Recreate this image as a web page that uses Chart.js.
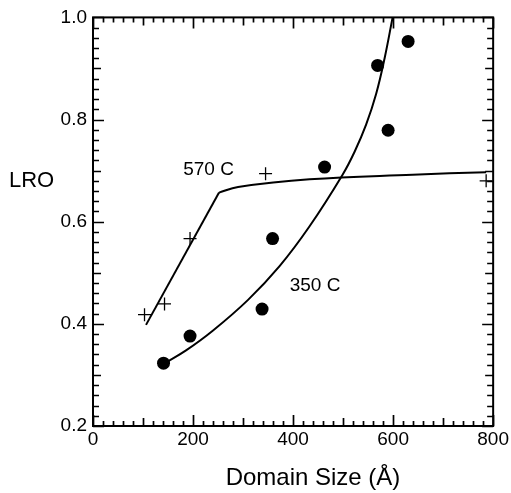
<!DOCTYPE html>
<html>
<head>
<meta charset="utf-8">
<script src="https://cdn.jsdelivr.net/npm/chart.js@4/dist/chart.umd.min.js"></script>
<style>
  html, body { margin: 0; padding: 0; background: #fff; }
  canvas { display: block; }
</style>
</head>
<body>
<canvas id="c" width="511" height="493"></canvas>
<script>
// Axis tick labels
const xTickLabels = [0, 200, 400, 600, 800];
const yTickLabels = [0.2, 0.4, 0.6, 0.8, 1.0];

// Measured long-range order, 350 C anneal
const size350 = [141, 194, 338, 359, 463, 569, 590, 630];
const lro350  = [0.323, 0.376, 0.429, 0.567, 0.707, 0.906, 0.779, 0.953];

// Measured long-range order, 570 C anneal
const size570 = [103, 143, 194, 345, 786];
const lro570  = [0.418, 0.439, 0.567, 0.694, 0.680];

// Fitted trend, 350 C
const fit350X = [142, 186, 240, 310, 373, 433, 499, 523, 546, 566, 583, 599];
const fit350Y = [0.322, 0.348, 0.387, 0.447, 0.513, 0.591, 0.692, 0.737, 0.790, 0.850, 0.920, 1.0];

// Fitted trend, 570 C: linear rise, then slow saturation
const rise570X = [106, 252];
const rise570Y = [0.398, 0.657];
const sat570X  = [252, 290, 433, 639, 786];
const sat570Y  = [0.657, 0.668, 0.683, 0.692, 0.697];

// Curve labels
const curveLabels = [
  { text: '570 C', x: 231, y: 0.701 },
  { text: '350 C', x: 444, y: 0.474 }
];

const FONT = '"Liberation Sans", Arial, Helvetica, sans-serif';
const pts = (xs, ys) => xs.map((v, i) => ({ x: v, y: ys[i] }));

// Frame with inward ticks on all four sides, plus titles and curve labels
const framePlugin = {
  id: 'frame',
  afterDraw(chart) {
    const { ctx, chartArea: a, scales: { x, y } } = chart;
    ctx.save();
    ctx.strokeStyle = '#000';
    ctx.lineWidth = 2;
    ctx.strokeRect(a.left, a.top, a.right - a.left, a.bottom - a.top);

    ctx.lineWidth = 1.7;
    ctx.beginPath();
    for (let v = 0; v <= 800; v += 20) {
      const px = Math.round(x.getPixelForValue(v)) + 0.5;
      const len = v % 200 === 0 ? 11 : (v % 100 === 0 ? 8 : 5);
      ctx.moveTo(px, a.bottom); ctx.lineTo(px, a.bottom - len);
      ctx.moveTo(px, a.top);    ctx.lineTo(px, a.top + len);
    }
    for (let i = 0; i <= 40; i++) {
      const py = Math.round(y.getPixelForValue(0.2 + i * 0.02)) + 0.5;
      const len = i % 10 === 0 ? 11 : (i % 5 === 0 ? 8 : 6);
      ctx.moveTo(a.left, py);  ctx.lineTo(a.left + len, py);
      ctx.moveTo(a.right, py); ctx.lineTo(a.right - len, py);
    }
    ctx.stroke();

    ctx.fillStyle = '#000';
    ctx.font = '19px ' + FONT;
    ctx.textAlign = 'center';
    ctx.textBaseline = 'middle';
    curveLabels.forEach(l => {
      ctx.fillText(l.text, x.getPixelForValue(l.x), y.getPixelForValue(l.y));
    });

    ctx.textBaseline = 'alphabetic';
    ctx.font = '24px ' + FONT;
    ctx.fillText('Domain Size (Å)', 313, 485);
    ctx.textAlign = 'left';
    ctx.font = '22px ' + FONT;
    ctx.fillText('LRO', 9, 187);
    ctx.restore();
  }
};

const lineStyle = {
  type: 'line',
  borderColor: '#000',
  borderWidth: 2,
  pointRadius: 0,
  fill: false
};

new Chart(document.getElementById('c'), {
  type: 'scatter',
  data: {
    datasets: [
      Object.assign({ label: 'fit 350 C', data: pts(fit350X, fit350Y), tension: 0.4 }, lineStyle),
      Object.assign({ label: 'fit 570 C rise', data: pts(rise570X, rise570Y), tension: 0 }, lineStyle),
      Object.assign({ label: 'fit 570 C plateau', data: pts(sat570X, sat570Y), tension: 0.4 }, lineStyle),
      {
        label: '350 C',
        data: pts(size350, lro350),
        pointStyle: 'circle',
        pointRadius: 6.5,
        backgroundColor: '#000',
        borderColor: '#000',
        borderWidth: 0
      },
      {
        label: '570 C',
        data: pts(size570, lro570),
        pointStyle: 'cross',
        pointRadius: 6.5,
        borderColor: '#000',
        borderWidth: 1.3
      }
    ]
  },
  options: {
    responsive: false,
    animation: false,
    devicePixelRatio: 1,
    layout: { padding: { top: 15, right: 17, left: 0, bottom: 0 } },
    plugins: {
      legend: { display: false },
      tooltip: { enabled: false }
    },
    scales: {
      x: {
        type: 'linear',
        min: xTickLabels[0],
        max: xTickLabels[xTickLabels.length - 1],
        afterBuildTicks: s => { s.ticks = xTickLabels.map(v => ({ value: v })); },
        ticks: {
          color: '#000',
          font: { family: FONT, size: 19 },
          padding: 2,
          maxRotation: 0
        },
        grid: { display: false, drawTicks: false },
        border: { display: false },
        afterFit: s => { s.height = 67; }
      },
      y: {
        type: 'linear',
        min: yTickLabels[0],
        max: yTickLabels[yTickLabels.length - 1],
        afterBuildTicks: s => { s.ticks = yTickLabels.map(v => ({ value: v })); },
        ticks: {
          color: '#000',
          font: { family: FONT, size: 19 },
          padding: 6,
          callback: v => v.toFixed(1)
        },
        grid: { display: false, drawTicks: false },
        border: { display: false },
        afterFit: s => { s.width = 93; }
      }
    }
  },
  plugins: [framePlugin]
});
</script>
</body>
</html>
